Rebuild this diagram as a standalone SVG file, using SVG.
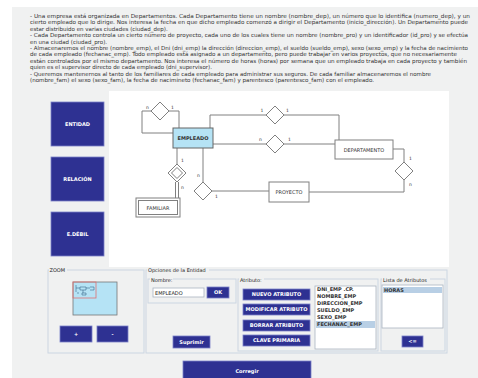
<svg xmlns="http://www.w3.org/2000/svg" width="478" height="378" viewBox="0 0 478 378">
<style>
.t{font-family:"DejaVu Sans",Verdana,sans-serif;font-size:5.5px;fill:#333}
.btn{fill:#2e3192;stroke:#7a80c8;stroke-width:0.8}
.bt{font-family:"DejaVu Sans",Verdana,sans-serif;font-size:5px;font-weight:bold;fill:#fff;text-anchor:middle}
.ln{stroke:#808080;fill:none;stroke-width:1}
.dia{fill:#fff;stroke:#808080;stroke-width:1}
.ent{fill:#fff;stroke:#808080;stroke-width:1}
.et{font-family:"DejaVu Sans",Verdana,sans-serif;font-size:5px;fill:#333;text-anchor:middle}
.lb{font-family:"DejaVu Sans",Verdana,sans-serif;font-size:4.5px;fill:#333}
.grp{fill:none;stroke:#cbd6e2;stroke-width:1}
.gl{font-family:"DejaVu Sans",Verdana,sans-serif;font-size:5px;fill:#222}
.li{font-family:"DejaVu Sans",Verdana,sans-serif;font-size:5px;font-weight:bold;fill:#333}
.mini{stroke:#3a6a8a;fill:none;stroke-width:0.6}
</style>
<rect x="0" y="0" width="478" height="378" fill="#fff"/>
<rect x="12" y="7" width="466" height="371" fill="#f0f1f1"/>
<g id="enunciado">
<text class="t" x="30" y="18" textLength="440" lengthAdjust="spacingAndGlyphs">- Una empresa está organizada en Departamentos. Cada Departamento tiene un nombre (nombre_dep), un número que lo identifica (numero_dep), y un</text>
<text class="t" x="30" y="24.4" textLength="438" lengthAdjust="spacingAndGlyphs">cierto empleado que lo dirige. Nos interesa la fecha en que dicho empleado comenzó a dirigir el Departamento (inicio_dirección). Un Departamento puede</text>
<text class="t" x="30" y="30.8">estar distribuido en varias ciudades (ciudad_dep).</text>
<text class="t" x="30" y="37.2" textLength="438" lengthAdjust="spacingAndGlyphs">- Cada Departamento controla un cierto número de proyecto, cada uno de los cuales tiene un nombre (nombre_pro) y un identificador (id_pro) y se efectúa</text>
<text class="t" x="30" y="43.6">en una ciudad (ciudad_pro).</text>
<text class="t" x="30" y="50" textLength="438" lengthAdjust="spacingAndGlyphs">- Almacenaremos el nombre (nombre_emp), el Dni (dni_emp) la dirección (direccion_emp), el sueldo (sueldo_emp), sexo (sexo_emp) y la fecha de nacimiento</text>
<text class="t" x="30" y="56.4" textLength="427" lengthAdjust="spacingAndGlyphs">de cada empleado (fechanac_emp). Todo empleado está asignado a un departamento, pero puede trabajar en varios proyectos, que no necesariamente</text>
<text class="t" x="30" y="62.8" textLength="437" lengthAdjust="spacingAndGlyphs">están controlados por el mismo departamento. Nos interesa el número de horas (horas) por semana que un empleado trabaja en cada proyecto y también</text>
<text class="t" x="30" y="69.2">quien es el supervisor directo de cada empleado (dni_supervisor).</text>
<text class="t" x="30" y="75.6" textLength="401" lengthAdjust="spacingAndGlyphs">- Queremos mantenernos al tanto de los familiares de cada empleado para administrar sus seguros. De cada familiar almacenaremos el nombre</text>
<text class="t" x="30" y="82" textLength="344" lengthAdjust="spacingAndGlyphs">(nombre_fam) el sexo (sexo_fam), la fecha de nacimineto (fechanac_fam) y parentesco (parentesco_fam) con el empleado.</text>
</g>
<g id="herramientas">
<rect class="btn" x="51" y="102" width="53" height="44"/>
<text class="bt" x="77.5" y="126">ENTIDAD</text>
<rect class="btn" x="51" y="157" width="53" height="44"/>
<text class="bt" x="77.5" y="181">RELACIÓN</text>
<rect class="btn" x="51" y="212" width="53" height="44"/>
<text class="bt" x="77.5" y="236">E.DÉBIL</text>
</g>
<rect id="lienzo" x="109" y="91" width="340" height="176" fill="#fff"/>
<g id="conectores">
<path class="ln" d="M151,111 H142 V133 H173"/>
<path class="ln" d="M169,111 H179 V128"/>
<path class="ln" d="M210,128 V115 H266"/>
<path class="ln" d="M284,115 H339 V140"/>
<path class="ln" d="M213,144 H266"/>
<path class="ln" d="M284,144 H335"/>
<path class="ln" d="M393,149 H404 V162"/>
<path class="ln" d="M404,180 V192 H309"/>
<path class="ln" d="M203,148 V182"/>
<path class="ln" d="M212,191 H269"/>
<path class="ln" d="M177,148 V164"/>
<path class="ln" d="M175.5,182 V198 M178.5,182 V198"/>
<text class="lb" x="146" y="109">n</text>
<text class="lb" x="171" y="109">1</text>
<text class="lb" x="260.5" y="112">1</text>
<text class="lb" x="286" y="112">1</text>
<text class="lb" x="259" y="141">n</text>
<text class="lb" x="288" y="141">1</text>
<text class="lb" x="409" y="160">1</text>
<text class="lb" x="409" y="186">n</text>
<text class="lb" x="197" y="177">n</text>
<text class="lb" x="215" y="198">1</text>
<text class="lb" x="181" y="162">1</text>
<text class="lb" x="181" y="189">n</text>
</g>
<g id="supervisa"><polygon class="dia" points="160,102 169,111 160,120 151,111"/></g>
<g id="dirige"><polygon class="dia" points="275,106 284,115 275,124 266,115"/></g>
<g id="pertenece"><polygon class="dia" points="275,135 284,144 275,153 266,144"/></g>
<g id="controla"><polygon class="dia" points="404,162 413,171 404,180 395,171"/></g>
<g id="trabaja"><polygon class="dia" points="203,182 212,191 203,200 194,191"/></g>
<g id="tiene"><polygon class="dia" points="177,164 186,173 177,182 168,173"/><polygon class="dia" points="177,167.5 182.5,173 177,178.5 171.5,173"/></g>
<g id="empleado">
<rect x="173" y="128" width="40" height="20" fill="#b5e3f5" stroke="#666" stroke-width="1"/>
<text class="et" x="193" y="140" font-weight="bold" fill="#222">EMPLEADO</text>
</g>
<g id="departamento">
<rect class="ent" x="335" y="140" width="58" height="19"/>
<text class="et" x="364" y="151.5">DEPARTAMENTO</text>
</g>
<g id="proyecto">
<rect class="ent" x="269" y="182" width="40" height="20"/>
<text class="et" x="289" y="194">PROYECTO</text>
</g>
<g id="familiar">
<rect class="ent" x="136" y="198" width="44" height="19"/>
<rect class="ent" x="138.5" y="200.5" width="39" height="14"/>
<text class="et" x="158" y="209.5">FAMILIAR</text>
</g>
<g id="zoom">
<rect class="grp" x="48" y="270" width="96" height="83"/>
<rect x="49" y="268" width="18" height="5" fill="#f0f1f1"/>
<text class="gl" x="49.5" y="272">ZOOM</text>
<rect x="73" y="282" width="44" height="33" fill="#b5e3f5" stroke="#777" stroke-width="0.8"/>
<path class="mini" d="M76,285 V292 M76,288 H80 M80,287 H86 V290 H80 Z M86,288 H90 M90,287 H94 V290 H90 M83,290 V293 M82,293 H86 V295 H82 Z M78,292 V294"/>
<rect x="73" y="282" width="23" height="16" fill="none" stroke="#e07070" stroke-width="0.8"/>
<rect class="btn" x="60" y="326" width="32" height="16"/>
<text class="bt" x="76" y="335.5">+</text>
<rect class="btn" x="97" y="326" width="31" height="16"/>
<text class="bt" x="112.5" y="335.5">-</text>
</g>
<g id="opciones">
<rect class="grp" x="146" y="270" width="301" height="83"/>
<rect x="147" y="268" width="62" height="5" fill="#f0f1f1"/>
<text class="gl" x="148" y="272">Opciones de la Entidad</text>
<rect class="grp" x="148" y="279" width="88" height="24"/>
<rect x="150" y="277" width="23" height="5" fill="#f0f1f1"/>
<text class="gl" x="151" y="281.5">Nombre:</text>
<rect x="153" y="288" width="51" height="9" fill="#fff" stroke="#aab4c0" stroke-width="0.8"/>
<text class="gl" x="155" y="294.5" fill="#666">EMPLEADO</text>
<rect class="btn" x="207" y="287" width="22" height="11"/>
<text class="bt" x="218" y="294.3">OK</text>
<rect class="btn" x="173" y="336" width="37" height="12"/>
<text class="bt" x="191.5" y="343.8">Suprimir</text>
<rect class="grp" x="238" y="279" width="140" height="72"/>
<rect x="239" y="277" width="25" height="5" fill="#f0f1f1"/>
<text class="gl" x="240" y="281.5">Atributo:</text>
<rect class="btn" x="243" y="289" width="67" height="11"/>
<text class="bt" x="276.5" y="296.3">NUEVO ATRIBUTO</text>
<rect class="btn" x="243" y="304" width="67" height="11"/>
<text class="bt" x="276.5" y="311.3">MODIFICAR ATRIBUTO</text>
<rect class="btn" x="243" y="320" width="67" height="11"/>
<text class="bt" x="276.5" y="327.3">BORRAR ATRIBUTO</text>
<rect class="btn" x="243" y="335" width="67" height="11"/>
<text class="bt" x="276.5" y="342.3">CLAVE PRIMARIA</text>
<rect x="315" y="286" width="61" height="63" fill="#fff" stroke="#aab4c0" stroke-width="0.8"/>
<rect x="316" y="321" width="59" height="7" fill="#b8cfe5"/>
<text class="li" x="317" y="291.3">DNI_EMP .CP.</text>
<text class="li" x="317" y="298.3">NOMBRE_EMP</text>
<text class="li" x="317" y="305.3">DIRECCION_EMP</text>
<text class="li" x="317" y="312.3">SUELDO_EMP</text>
<text class="li" x="317" y="319.3">SEXO_EMP</text>
<text class="li" x="317" y="326.3">FECHANAC_EMP</text>
<rect class="grp" x="381" y="279" width="64" height="72"/>
<rect x="382" y="277" width="48" height="5" fill="#f0f1f1"/>
<text class="gl" x="383" y="281.5">Lista de Atributos</text>
<rect x="382" y="285" width="61" height="43" fill="#fff" stroke="#aab4c0" stroke-width="0.8"/>
<rect x="383" y="287" width="59" height="6" fill="#b8cfe5"/>
<text class="li" x="384" y="292">HORAS</text>
<rect class="btn" x="402" y="336" width="21" height="11"/>
<text class="bt" x="412.5" y="343.3">&lt;=</text>
</g>
<g id="corregir">
<rect class="btn" x="183" y="361" width="128" height="20"/>
<text class="bt" x="247" y="373" font-weight="normal">Corregir</text>
</g>
</svg>
